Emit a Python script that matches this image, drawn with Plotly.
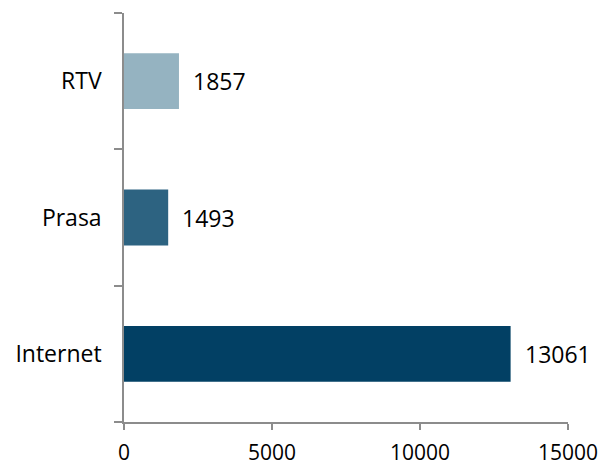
import plotly.graph_objects as go

categories = ["Internet", "Prasa", "RTV"]
values = [13061, 1493, 1857]
colors = ["#024064", "#2D6381", "#95B3C1"]
x_ticks = [0, 5000, 10000, 15000]

FONT = "Open Sans, Noto Sans, sans-serif"

fig = go.Figure()
fig.add_trace(go.Bar(
    y=categories, x=values, orientation="h",
    marker=dict(color=colors, line=dict(width=0)),
    hoverinfo="skip",
))
for c, v in zip(categories, values):
    fig.add_annotation(x=v, y=c, text=str(v), showarrow=False,
                       xanchor="left", xshift=12,
                       font=dict(size=23, color="#000000", family=FONT))

fig.update_layout(
    width=598, height=460,
    margin=dict(l=116, r=38, t=5, b=46, autoexpand=False),
    plot_bgcolor="white", paper_bgcolor="white",
    bargap=0.59, showlegend=False,
    font=dict(family=FONT, size=22, color="#000000"),
)
fig.update_xaxes(
    range=[0, 15000], tickvals=x_ticks, ticktext=[str(t) for t in x_ticks],
    showgrid=False, zeroline=False, showline=True, linecolor="#8C8C8C", linewidth=1.5,
    ticks="outside", ticklen=6, tickcolor="#8C8C8C", tickwidth=1.5,
    tickfont=dict(size=21), ticklabelstandoff=5, automargin=False,
)
fig.update_yaxes(
    categoryorder="array", categoryarray=categories,
    showgrid=False, zeroline=False, showline=True, linecolor="#8C8C8C", linewidth=1.5,
    ticks="outside", ticklen=8, tickcolor="#8C8C8C", tickwidth=1.5, tickson="boundaries",
    tickfont=dict(size=23), ticklabelstandoff=16, automargin=False,
)
fig.write_html("out.html")
